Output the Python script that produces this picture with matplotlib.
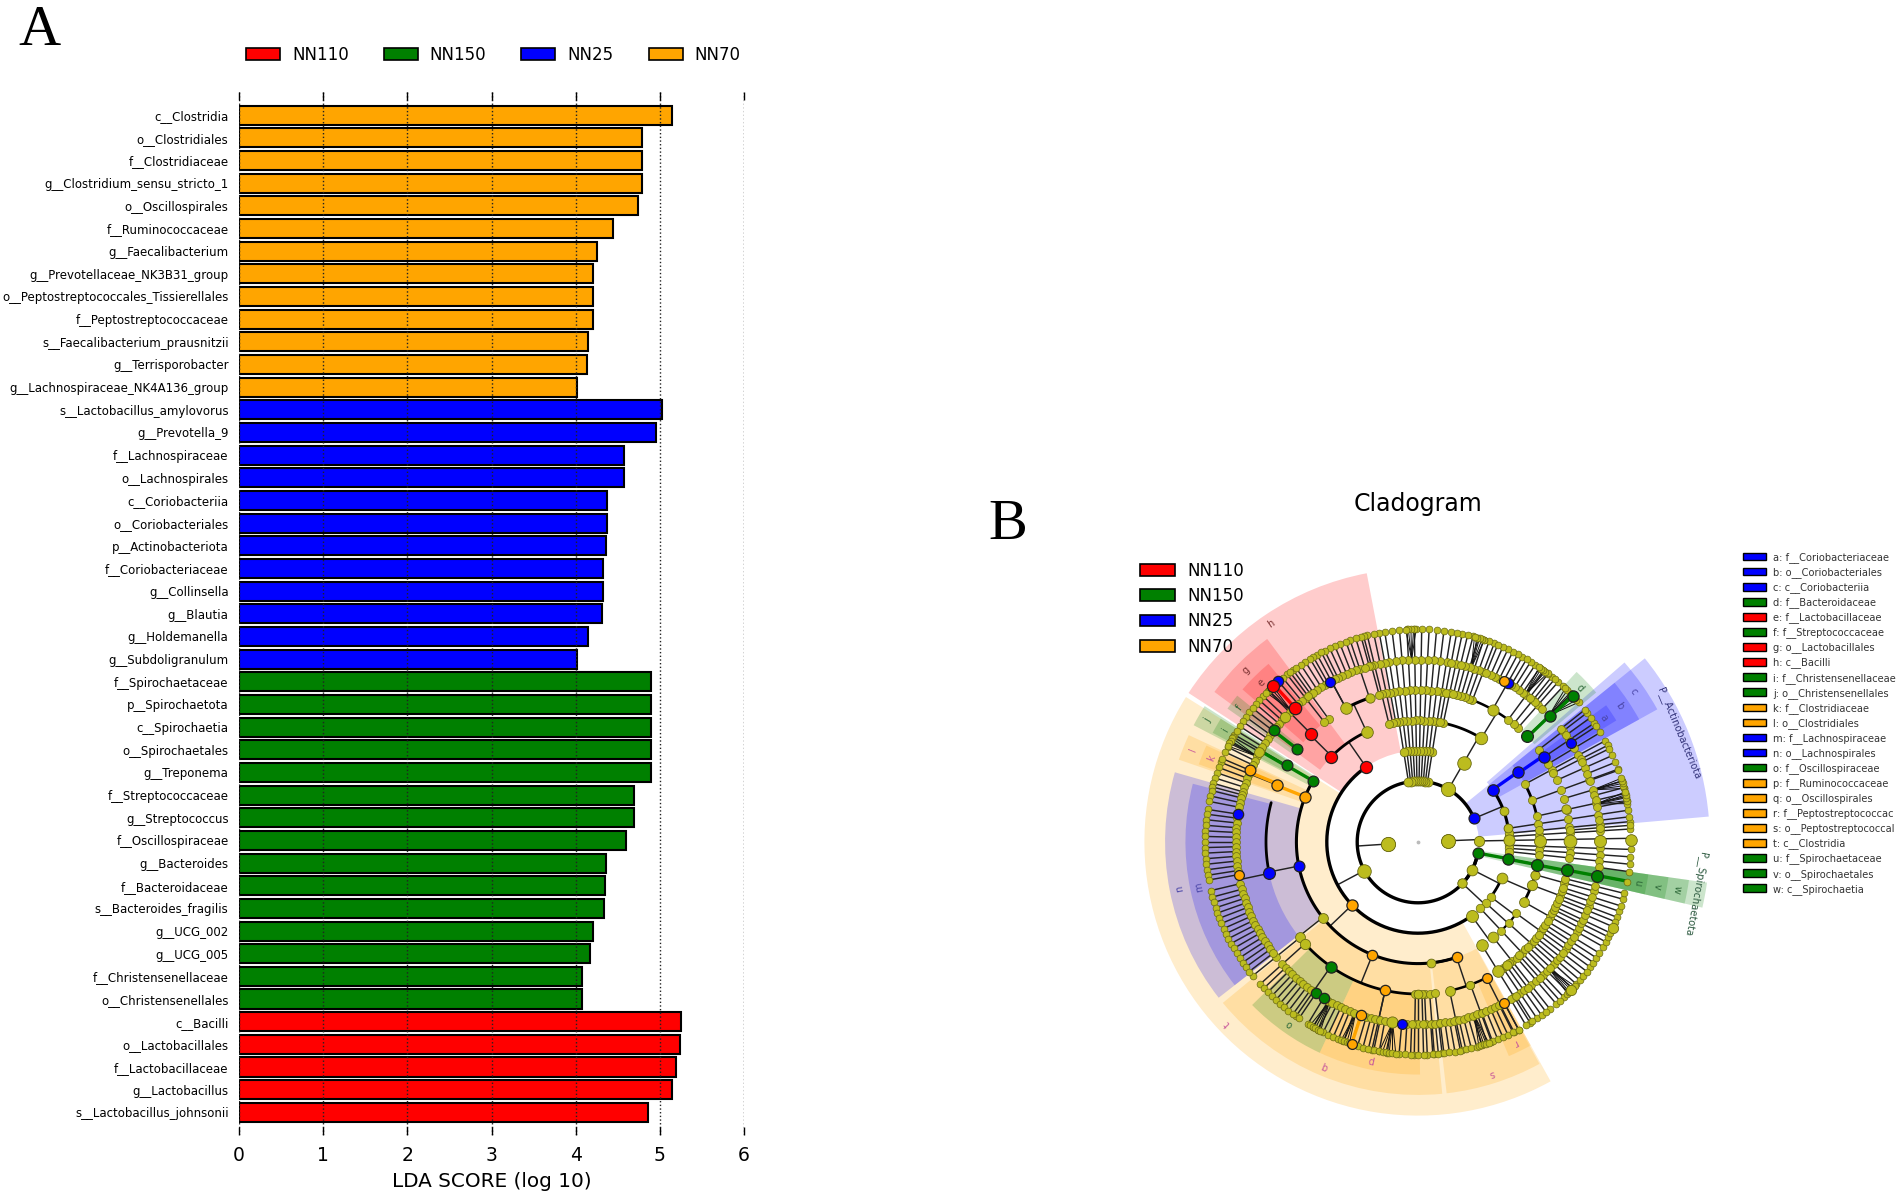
import numpy as np
import matplotlib
matplotlib.use("Agg")
import matplotlib.pyplot as plt
from matplotlib.patches import Patch

W, H = 1902, 1192
# ---------- panel A data ----------
taxa = ["c__Clostridia","o__Clostridiales","f__Clostridiaceae","g__Clostridium_sensu_stricto_1","o__Oscillospirales",
 "f__Ruminococcaceae","g__Faecalibacterium","g__Prevotellaceae_NK3B31_group","o__Peptostreptococcales_Tissierellales",
 "f__Peptostreptococcaceae","s__Faecalibacterium_prausnitzii","g__Terrisporobacter","g__Lachnospiraceae_NK4A136_group",
 "s__Lactobacillus_amylovorus","g__Prevotella_9","f__Lachnospiraceae","o__Lachnospirales","c__Coriobacteriia",
 "o__Coriobacteriales","p__Actinobacteriota","f__Coriobacteriaceae","g__Collinsella","g__Blautia","g__Holdemanella",
 "g__Subdoligranulum","f__Spirochaetaceae","p__Spirochaetota","c__Spirochaetia","o__Spirochaetales","g__Treponema",
 "f__Streptococcaceae","g__Streptococcus","f__Oscillospiraceae","g__Bacteroides","f__Bacteroidaceae","s__Bacteroides_fragilis",
 "g__UCG_002","g__UCG_005","f__Christensenellaceae","o__Christensenellales","c__Bacilli","o__Lactobacillales",
 "f__Lactobacillaceae","g__Lactobacillus","s__Lactobacillus_johnsonii"]
lda = [5.15,4.79,4.79,4.79,4.745,4.44,4.25,4.21,4.21,4.21,4.15,4.13,4.02,
       5.03,4.95,4.57,4.57,4.37,4.37,4.36,4.33,4.33,4.31,4.15,4.02,
       4.89,4.89,4.89,4.89,4.89,4.69,4.69,4.60,4.36,4.35,4.34,4.21,4.17,4.07,4.07,
       5.25,5.24,5.19,5.15,4.86]
groups = ["NN70"]*13 + ["NN25"]*12 + ["NN150"]*15 + ["NN110"]*5
group_names = ["NN110","NN150","NN25","NN70"]
group_colors = {"NN110":"#ff0000","NN150":"#008000","NN25":"#0000ff","NN70":"#ffa500"}
xticks = [0,1,2,3,4,5,6]

# ---------- panel B data (angles in degrees, levels 1..7 from the centre) ----------
key_entries = [("a: f__Coriobacteriaceae","NN25"),("b: o__Coriobacteriales","NN25"),("c: c__Coriobacteriia","NN25"),
 ("d: f__Bacteroidaceae","NN150"),("e: f__Lactobacillaceae","NN110"),("f: f__Streptococcaceae","NN150"),
 ("g: o__Lactobacillales","NN110"),("h: c__Bacilli","NN110"),("i: f__Christensenellaceae","NN150"),
 ("j: o__Christensenellales","NN150"),("k: f__Clostridiaceae","NN70"),("l: o__Clostridiales","NN70"),
 ("m: f__Lachnospiraceae","NN25"),("n: o__Lachnospirales","NN25"),("o: f__Oscillospiraceae","NN150"),
 ("p: f__Ruminococcaceae","NN70"),("q: o__Oscillospirales","NN70"),("r: f__Peptostreptococcac","NN70"),
 ("s: o__Peptostreptococcal","NN70"),("t: c__Clostridia","NN70"),("u: f__Spirochaetaceae","NN150"),
 ("v: o__Spirochaetales","NN150"),("w: c__Spirochaetia","NN150")]

# letter, group, start angle, end angle, inner level, outer radius, label radius
sectors = [("t","NN70",148,299,3,9.0,8.66),("h","NN110",100.8,147,3,9.0,8.66),("P","NN25",5,39,2,9.6,0),
 ("P","NN150",-13,-8,2,9.6,0),("c","NN25",29,41,3,9.0,8.66),("b","NN25",29,39,4,8.32,8.0),("a","NN25",31.5,36,5,7.65,7.34),
 ("w","NN150",-13,-8,3,9.0,8.66),("v","NN150",-13,-8,4,8.32,8.0),("u","NN150",-13,-8,5,7.65,7.34),
 ("g","NN110",126.6,143.6,4,8.32,8.0),("e","NN110",130,139,5,7.65,7.34),("f","NN150",141,145,5,7.65,7.34),
 ("d","NN150",40,47,5,7.65,7.34),("j","NN150",147.5,152.5,4,8.32,8.0),("i","NN150",148,152,5,7.65,7.34),
 ("l","NN70",155,161,4,8.32,8.0),("k","NN70",155.5,160.5,5,7.65,7.34),("n","NN25",164,218,4,8.32,8.0),
 ("m","NN25",165.5,218,5,7.65,7.34),("q","NN70",219.5,275.5,4,8.32,8.0),("o","NN150",224.5,245,5,7.65,7.34),
 ("p","NN70",245,270.5,5,7.65,7.34),("s","NN70",276.5,298.7,4,8.32,8.0),("r","NN70",293,299,5,7.65,7.34)]
letter_colors = {"NN70":"#c8589a","NN25":"#4a46a8","NN150":"#2f6a3a","NN110":"#7a3030"}

# chains run from a start level out to level 7
chain_L2 = [81,83,85,87,89,91,93,95,97,99,1]
chain_L3 = [8.6,3.5,5.5,-2,-4,-6]
chain_L4 = [78,79.5,100.5,102,103.8,28.4,20,12.3,-15.6,-20.7,-29.5,-36,-41.9,-46.8,-51.7,-58.2]
chain_L5 = [48.8,51,53.6,60.6,69,70.5,72,73.5,75,76.5,104.8,108.6,118.3,126,128,134.7,142.5,149.7,158,219,222,
            235,257.5,269,270,272.5,-63.2,-69.8,-78,-88.5,-85.6,-83.5,44,37.4,34,31,27,24,16.6,4.5,-10.7,
            -56,-54.5,-53,-49.5,-48.2,-45,-43.5,-40.5,-39,-37.5,-34.5,-33,-31.5,-28,-26.5,-25.3,-23.5,-22,-19,-17.5,-14]
chain_L6 = [47,50,52.3,55,56.5,58,59.3,62,63.5,65,66.5,68,
            105.5,107,109.8,111.5,113,114.5,116,117,119.5,120.5,122,123.5,125,127,129.5,131,132.5,136.7,138.2,139.6,141,144,145.5,147,148.5,150.4,
            152,153.5,155,156.9,159.5,161,162.5,164,165,166,167.5,169,171.2,172.5,174,175.5,177,178.5,180,181.5,183,184.5,186,187.5,189,190.3,
            193.2,195,196.5,198,199.5,201,202.5,204,205.5,207,208.5,210,211.5,213,214.5,216,217.5,
            223.5,225,226.5,228,229.5,231,232.5,234,236,238.8,240.5,242,243.5,245,246.5,248,249.5,251.7,253.5,255,256.5,258,259.5,261.7,264.9,266.5,268,
            274,275.5,277,278.5,280,281.5,283,284.5,286,287.5,289,290.5,292,293.5,295,296.5,298.2,
            38.4,35.8,33,26,22,19.7,14.8,13.2,11,6.8,-8,-59.5,-57.5,-61.8]
# short stems: start level, end level, angle
stems = [(1,2,183.8),(1,2,2.3),(2,3,208),(2,3,60),(3,4,60),(4,5,58.6),(2,3,22.8),(3,4,35),(2,3,-10.5),(3,4,-10.6),(4,5,-10.8),
         (2,3,-27),(2,3,-43),(3,4,-23.5),(3,4,-37),(3,4,-42),(3,4,-46.8),(3,4,-54),(3,4,223.7),(3,4,124.7),(4,5,135.2),
         (4,5,115),(5,6,118.3),(4,5,191.4),(4,5,248),(4,5,288.5),(4,5,218.4),(5,6,191.9),(5,6,257.5)]
# arcs: level, start angle, end angle, width
arcs = [(2,22.8,349.5,2.4),(2,-43,-10.5,2.4),(3,125,306,2.4),(3,1.3,35,2.2),(3,-37,-23.5,2),(3,-47,-42,2),
        (4,150,288.5,2.2),(4,115,135.4,2),(4,58.6,78,2),(4,8,28.4,2),(4,-29.5,-15.6,2),(4,-47,-36,1.6),
        (4,-84,-71.5,1.8),(5,165,192,2),(5,222,270,2),(5,-78,-63.2,1.8),(5,48,69,1.8),(5,108.6,118.3,2.2)]
# fans: parent angle at level 6, children at level 7
fans = [(92,[90.5,91.2,91.9,92.6,93.3]),(73,[71.8,72.5,73.2,73.9,74.6]),(54,[52.5,53.2,53.9,54.6,55.3]),
        (44,[41,41.9,42.8,43.6,44.5,45.4,46.2]),(16.6,[14.6,15.3,16,16.7,17.4]),(12,[10.4,11.2,12,12.8,13.6]),
        (-44,[-45.4,-44.7,-44,-43.3,-42.6]),(-72,[-73.4,-72.7,-72,-71.3,-70.6]),(262,[259.5,260.4,261.3,262.2,263.1,264]),
        (241,[239.5,240.3,241.1,241.9,242.7]),(250,[248.8,249.6,250.4,251.2]),(152,[150.8,151.6,152.4,153.2]),(134,[133,133.8,134.6,135.4])]
big_nodes = [(1,183.8,105),(1,2.3,100),(2,208,95),(2,60,105),(3,60,95),(4,58.6,80),(5,60.6,65),(2,1,55),(3,1,65),(4,.5,75),(5,.4,85),(6,.3,75),(7,.5,70),
             (2,-27,60),(2,-43,45),(3,-54,75),(3,-23.5,60),(4,-58.2,70),(4,-51.7,60),(5,-58.3,70),(5,-54,45),(7,-44,55),(7,-23.8,55),
             (5,118.3,70),(5,108.6,45),(4,115,70),(4,218.4,50),(5,218.8,50),(5,222,55),(6,261.7,65),(4,-29.5,50),(4,-20.7,55),(4,-15.6,45),
             (3,20,40),(3,8.6,40),(5,12.5,45),(6,136.7,55),(6,150.4,50),(5,270,40),(4,-84,40),(5,-78,50),(5,-69.8,35)]
biomarkers = [(3,124.7,"NN110",75),(4,135.4,"NN110",75),(5,134.7,"NN110",75),(7,131,"NN25",55),(6,132.5,"NN110",80),(7,132.8,"NN110",75),
 (4,149.8,"NN150",60),(5,149.7,"NN150",60),(5,142.5,"NN150",60),(6,142.2,"NN150",60),
 (4,158.3,"NN70",65),(5,158,"NN70",65),(6,156.9,"NN70",60),
 (6,171.2,"NN25",55),(4,191.4,"NN25",60),(5,191.9,"NN25",72),(6,190.3,"NN70",50),(6,118.7,"NN25",52),(6,264.9,"NN25",50),
 (6,60.5,"NN25",55),(6,62,"NN70",50),
 (3,223.7,"NN70",65),(4,248,"NN70",55),(5,257.5,"NN70",55),(6,251.7,"NN70",55),(7,251.8,"NN70",50),(4,288.5,"NN70",55),(5,-63.2,"NN70",50),(6,-61.8,"NN70",50),
 (5,235,"NN150",65),(6,236,"NN150",55),(6,238.8,"NN150",55),(5,44,"NN150",72),(6,43.6,"NN150",65),(7,43.2,"NN150",65),
 (2,-10.5,"NN150",62),(3,-10.6,"NN150",65),(4,-11,"NN150",72),(5,-10.8,"NN150",72),(6,-10.6,"NN150",72),
 (2,22.8,"NN25",62),(3,35,"NN25",68),(4,34.9,"NN25",65),(5,34,"NN25",65),(6,33,"NN25",50)]
# coloured edges: start level, end level, angle, group
marker_edges = [(6,7,132.5,"NN110"),(5,6,150,"NN150"),(4,5,149.8,"NN150"),(5,6,142.4,"NN150"),(4,5,158.2,"NN70"),(5,6,157.5,"NN70"),
                (6,7,251.8,"NN70"),(5,6,43.8,"NN150"),(6,7,43.4,"NN150"),(2,3,-10.5,"NN150"),(3,4,-10.8,"NN150"),(4,5,-10.9,"NN150"),(5,6,-10.7,"NN150"),(6,7,-10.6,"NN150"),
                (3,4,35,"NN25"),(4,5,34.5,"NN25")]
phylum_labels = [("P__Actinobacteriota",22.7,"#33337a"),("P__Spirochaetota",-10.5,"#2d5a40")]

plt.rcParams["font.family"] = ["DejaVu Sans"]
fig = plt.figure(figsize=(W/100, H/100), dpi=100, facecolor="white")
def box(x0, y0, x1, y1):
    return [x0/W, 1-y1/H, (x1-x0)/W, (y1-y0)/H]

# ---------- panel A ----------
ax = fig.add_axes(box(239, 92, 744, 1135))
y = np.arange(len(taxa))
ax.barh(y, lda, height=0.84, color=[group_colors[g] for g in groups], edgecolor="black", linewidth=1.5, zorder=2)
ax.set_xlim(0, 6)
ax.set_ylim(45.0, -1.02)
ax.set_yticks(y, taxa, fontsize=8.45)
ax.tick_params(axis="y", length=0, pad=7.5)
ax.set_xticks(xticks, [str(t) for t in xticks])
ax.tick_params(axis="x", direction="in", top=True, bottom=True, length=6, width=1, labelsize=13.5, pad=8)
ax.grid(axis="x", linestyle=":", color="#222222", linewidth=1.0, zorder=3)
ax.set_axisbelow(False)
for s in ax.spines.values():
    s.set_visible(False)
ax.set_xlabel("LDA SCORE (log 10)", fontsize=14.4, labelpad=5)
handles = [Patch(facecolor=group_colors[g], edgecolor="black", linewidth=1.2, label=g) for g in group_names]
ax.legend(handles=handles, loc="center left", bbox_to_anchor=(246/W, 1-55/H), bbox_transform=fig.transFigure,
          ncol=4, frameon=False, fontsize=12, borderpad=0, borderaxespad=0, handlelength=2.04, handleheight=0.72,
          handletextpad=0.72, columnspacing=2.1)

fig.text(18/W, 1-45/H, "A", family="Liberation Serif", fontsize=42, ha="left", va="baseline")
fig.text(988/W, 1-539/H, "B", family="Liberation Serif", fontsize=42, ha="left", va="baseline")
fig.text(1418/W, 1-504/H, "Cladogram", fontsize=17, ha="center", va="center")

# ---------- panel B ----------
RMAX = 9.8
R_PX = RMAX*30.4
pax = fig.add_axes(box(1418-R_PX, 842-R_PX, 1418+R_PX, 842+R_PX), projection="polar")
pax.set_rlim(0, RMAX)
pax.set_axis_off()
rad = np.radians

for letter, g, a0, a1, inner, outer, lab in sectors:
    pax.bar(rad((a0+a1)/2), outer-inner, width=rad(a1-a0), bottom=inner, color=group_colors[g], alpha=0.2, linewidth=0, zorder=1)
    if lab:
        mid = (a0+a1)/2
        pax.text(rad(mid), lab, letter, color=letter_colors[g], fontsize=7, rotation=mid-90, rotation_mode="anchor",
                 ha="center", va="center", zorder=6)
for name, ang, col in phylum_labels:
    pax.text(rad(ang), 9.3, name, color=col, fontsize=7.2, rotation=ang-90, rotation_mode="anchor", ha="center", va="center", zorder=6)

# radial branches
for start, angs in [(2, chain_L2), (3, chain_L3), (4, chain_L4), (5, chain_L5), (6, chain_L6)]:
    pax.vlines(rad(np.array(angs)), start, 7, color="#222222", linewidth=1.05, zorder=2)
for r0, r1, a in stems:
    pax.vlines(rad(a), r0, r1, color="#222222", linewidth=1.05, zorder=2)
for parent, kids in fans:
    for k in kids:
        pax.plot(rad([parent, k]), [6, 7], color="#111111", linewidth=0.7, zorder=2)
# arcs
for lev, a0, a1, lw in arcs:
    th = rad(np.linspace(a0, a1, max(8, int(abs(a1-a0)))))
    pax.plot(th, np.full(th.shape, lev), color="black", linewidth=lw, zorder=3, solid_capstyle="round")
for r0, r1, a, g in marker_edges:
    pax.vlines(rad(a), r0, r1, color=group_colors[g], linewidth=2.4, zorder=4)

# background nodes
ring_size = {1:100, 2:42, 3:38, 4:34, 5:34, 6:32, 7:24}
nodes = {}
for start, angs in [(2, chain_L2), (3, chain_L3), (4, chain_L4), (5, chain_L5), (6, chain_L6)]:
    for lev in range(start, 8):
        nodes.setdefault(lev, []).extend(angs)
for r0, r1, a in stems:
    nodes.setdefault(r0, []).append(a)
for parent, kids in fans:
    nodes[7].extend(kids)
NODE = "#bcbc1e"; NODE_E = "#6a6a14"
for lev, angs in sorted(nodes.items()):
    pax.scatter(rad(np.array(angs)), np.full(len(angs), lev), s=ring_size[lev], c=NODE, edgecolors=NODE_E, linewidths=0.5, zorder=5)
for lev, a, s in big_nodes:
    pax.scatter(rad(a), lev, s=s, c=NODE, edgecolors=NODE_E, linewidths=0.6, zorder=5.2)
pax.scatter(0, 0, s=3, c="#bbbbbb", zorder=5)
for lev, a, g, s in biomarkers:
    pax.scatter(rad(a), lev, s=s, c=group_colors[g], edgecolors="#222222", linewidths=0.9, zorder=5.5)

pax.legend(handles=[Patch(facecolor=group_colors[g], edgecolor="black", linewidth=1.2, label=g) for g in group_names],
           loc="upper left", bbox_to_anchor=(1140/W, 1-562/H), bbox_transform=fig.transFigure, frameon=False, fontsize=12,
           borderpad=0, borderaxespad=0, handlelength=2.1, handleheight=0.72, handletextpad=0.75, labelspacing=0.43)
key = fig.legend(handles=[Patch(facecolor=group_colors[g], edgecolor="black", linewidth=1.0, label=t) for t, g in key_entries],
           loc="upper left", bbox_to_anchor=(1743/W, 1-552/H), frameon=False, fontsize=7.15,
           borderpad=0, borderaxespad=0, handlelength=2.32, handleheight=0.8, handletextpad=0.72, labelspacing=0.42)
for t in key.get_texts():
    t.set_color("#333333")

fig.savefig("out.png", dpi=100, facecolor="white")
